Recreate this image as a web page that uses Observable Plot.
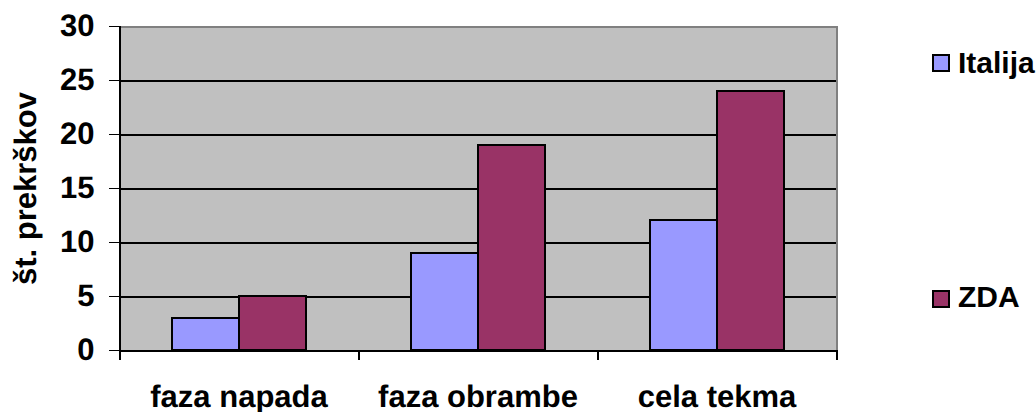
<!DOCTYPE html>
<html><head><meta charset="utf-8">
<script src="https://cdn.jsdelivr.net/npm/d3@7"></script>
<script src="https://cdn.jsdelivr.net/npm/@observablehq/plot@0.6"></script>
<style>
html,body{margin:0;padding:0;background:#fff;overflow:hidden;}
#wrap{position:relative;width:1036px;height:412px;font-family:Arial,"Liberation Sans",sans-serif;font-weight:bold;color:#000;}
#wrap svg{shape-rendering:crispEdges;}
#wrap svg text{text-rendering:geometricPrecision;}
.sw{position:absolute;left:932px;width:14px;height:14px;border:2px solid #000;}
.lt{position:absolute;left:958px;font-size:30px;line-height:30px;white-space:nowrap;}
</style></head><body><div id="wrap"></div>
<script>
const categories = ["faza napada", "faza obrambe", "cela tekma"];
const series = ["Italija", "ZDA"];
const italija = [3, 9, 12];
const zda = [5, 19, 24];
const yTicks = [0, 5, 10, 15, 20, 25, 30];
const gridTicks = [5, 10, 15, 20, 25];
const colors = ["#9999FF", "#993366"];
const yLabel = "št. prekrškov";

const data = categories.flatMap((c, i) => [
  {cat: c, s: series[0], v: italija[i]},
  {cat: c, s: series[1], v: zda[i]}
]);

const W = 1036, H = 412, ML = 118, MR = 200, MT = 26, MB = 62;
const FONT = "Arial, 'Liberation Sans', sans-serif";

const plot = Plot.plot({
  width: W, height: H,
  marginLeft: ML, marginRight: MR, marginTop: MT, marginBottom: MB,
  style: {fontFamily: FONT, fontWeight: "bold", fontSize: "31px", color: "#000", background: "#fff", overflow: "visible"},
  fx: {domain: categories, padding: 0, label: null, tickSize: 0, tickPadding: 34, axis: "bottom"},
  x: {domain: series, paddingInner: 0, paddingOuter: 0.76, axis: null},
  y: {domain: [0, 30], ticks: yTicks, tickSize: 10, tickPadding: 15, label: yLabel, labelAnchor: "center", labelOffset: 106, labelArrow: "none"},
  color: {domain: series, range: colors},
  marks: [
    Plot.frame({facet: "super", fill: "#C0C0C0"}),
    Plot.frame({facet: "super", anchor: "top", stroke: "#808080", strokeWidth: 2}),
    Plot.frame({facet: "super", anchor: "right", stroke: "#808080", strokeWidth: 2}),
    Plot.ruleY(gridTicks, {stroke: "#000", strokeWidth: 2}),
    Plot.barY(data, {fx: "cat", x: "s", y: "v", fill: "s", stroke: "#000", strokeWidth: 2}),
    Plot.frame({anchor: "left", stroke: "#000", strokeWidth: 2, insetTop: H - MT - MB, insetBottom: -8}),
    Plot.frame({anchor: "right", stroke: "#000", strokeWidth: 2, insetTop: H - MT - MB, insetBottom: -8}),
    Plot.frame({facet: "super", anchor: "left", stroke: "#000", strokeWidth: 2, insetBottom: -8}),
    Plot.ruleY([0], {stroke: "#000", strokeWidth: 2})
  ]
});

const wrap = document.getElementById("wrap");
wrap.appendChild(plot);

const legendTops = [54, 290];
const textTops = [48, 282];
series.forEach((s, i) => {
  const sw = document.createElement("div");
  sw.className = "sw";
  sw.style.top = legendTops[i] + "px";
  sw.style.background = colors[i];
  wrap.appendChild(sw);
  const t = document.createElement("div");
  t.className = "lt";
  t.style.top = textTops[i] + "px";
  t.textContent = s;
  wrap.appendChild(t);
});
</script>
</body></html>
